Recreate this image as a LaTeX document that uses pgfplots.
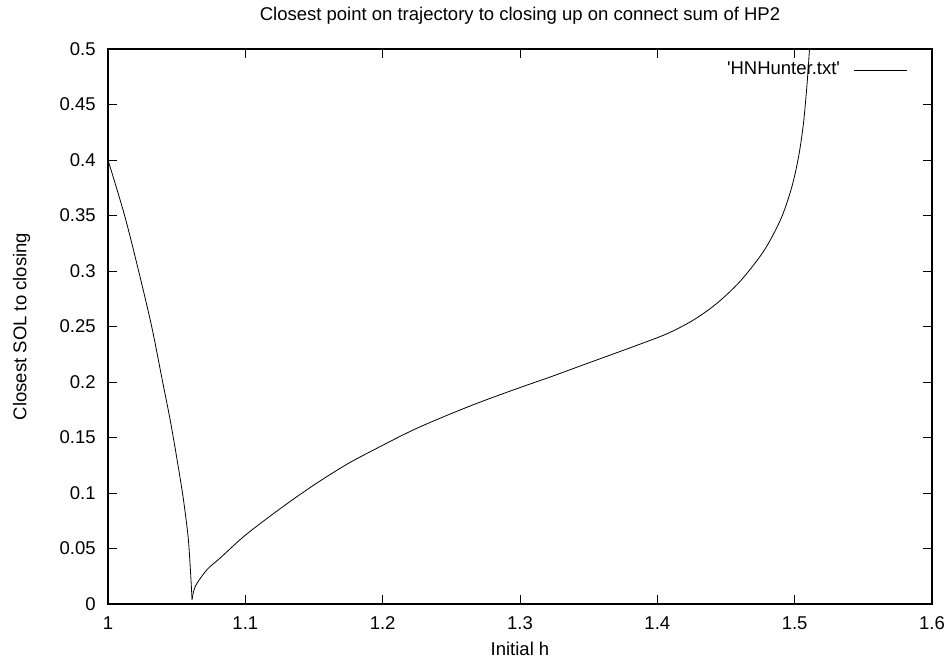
\documentclass[border=0pt]{standalone}
\usepackage{fontspec}
\setmainfont{Liberation Sans}[Ligatures=TeXOff]
\usepackage{pgfplots}
\pgfplotsset{compat=1.18}
\begin{document}
\fontsize{18.5}{21}\selectfont
\begin{tikzpicture}
\useasboundingbox (-108pt,-55pt) rectangle (840pt,604pt);
\begin{axis}[
  scale only axis,
  width=824pt, height=555pt,
  xmin=1, xmax=1.6, ymin=0, ymax=0.5,
  xtick={1,1.1,...,1.6},
  ytick={0,0.05,...,0.5},
  xticklabels={1,1.1,1.2,1.3,1.4,1.5,1.6},
  yticklabels={0,0.05,0.1,0.15,0.2,0.25,0.3,0.35,0.4,0.45,0.5},
  tick align=inside,
  major tick length=9pt,
  tick style={black, line width=0.8pt},
  axis line style={black, line width=1.2pt},
  /pgf/number format/assume math mode=true,
  tick label style={font=\fontsize{18.5}{21}\selectfont},
  xticklabel style={yshift=-6pt},
  yticklabel style={xshift=-6pt},
  title={Closest point on trajectory to closing up on connect sum of HP2},
  title style={font=\fontsize{18.5}{21}\selectfont, yshift=12pt},
  xlabel={Initial h},
  ylabel={Closest SOL to closing},
  label style={font=\fontsize{18.5}{21}\selectfont},
  xlabel style={yshift=-5pt, inner sep=1pt},
  ylabel style={yshift=17pt},
  legend style={draw=none, fill=none, at={(rel axis cs:1,1)}, anchor=north east,
    xshift=-21pt, yshift=-9pt, column sep=12pt, font=\fontsize{18.5}{21}\selectfont},
  legend plot pos=right,
  legend image code/.code={\draw[#1] (0pt,0pt) -- (53pt,0pt);},
  clip=true,
]
\addplot[black, line width=0.8pt, smooth, tension=0.5] coordinates {
(1.0000,0.400)
(1.0121,0.350)
(1.0223,0.300)
(1.0318,0.250)
(1.0398,0.200)
(1.0454,0.165)
(1.0503,0.130)
(1.0546,0.097)
(1.0583,0.061)
(1.0600,0.031)
(1.0612,0.004)
};
\addlegendentry{'HNHunter.txt'}
\addplot[black, line width=0.8pt, smooth, tension=0.5, forget plot] coordinates {
(1.0612,0.004)
(1.0636,0.016)
(1.0721,0.031)
(1.0813,0.041)
(1.1000,0.062)
(1.1255,0.086)
(1.1497,0.107)
(1.1741,0.126)
(1.2000,0.143)
(1.2226,0.157)
(1.2469,0.170)
(1.2712,0.182)
(1.3000,0.195)
(1.3220,0.2045)
(1.3440,0.2145)
(1.3640,0.2235)
(1.3828,0.2320)
(1.4071,0.2435)
(1.4265,0.2560)
(1.4435,0.2710)
(1.4605,0.2910)
(1.4775,0.3180)
(1.4900,0.3470)
(1.4980,0.3760)
(1.5030,0.4040)
(1.5064,0.4330)
(1.5090,0.4680)
(1.5108,0.5000)
};
\end{axis}
\end{tikzpicture}
\end{document}
